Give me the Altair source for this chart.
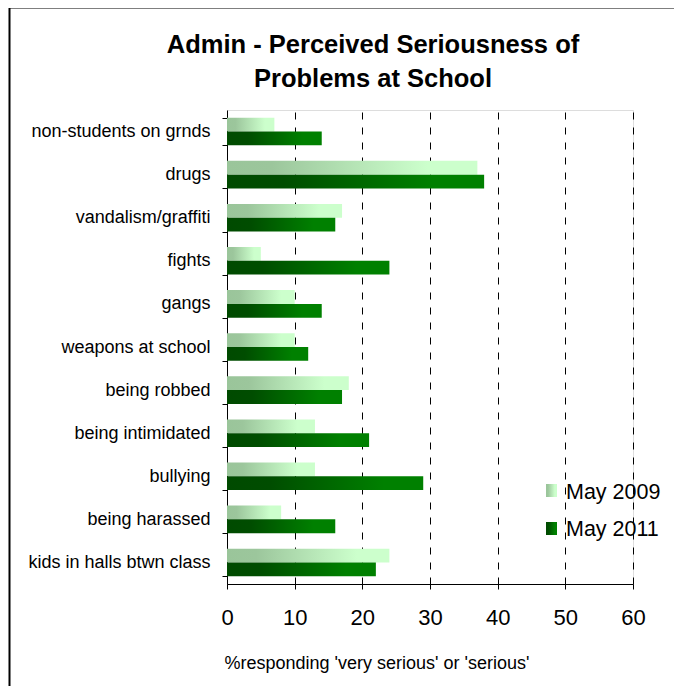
import altair as alt
import pandas as pd

categories = [
    "non-students on grnds", "drugs", "vandalism/graffiti", "fights", "gangs",
    "weapons at school", "being robbed", "being intimidated", "bullying",
    "being harassed", "kids in halls btwn class",
]
may_2009 = [7, 37, 17, 5, 10, 10, 18, 13, 13, 8, 24]
may_2011 = [14, 38, 16, 24, 14, 12, 17, 21, 29, 16, 22]
years = ["May 2009", "May 2011"]
x_ticks = [0, 10, 20, 30, 40, 50, 60]

rows = []
for c, a, b in zip(categories, may_2009, may_2011):
    rows.append({"problem": c, "year": years[0], "value": a})
    rows.append({"problem": c, "year": years[1], "value": b})
df = pd.DataFrame(rows)

FONT = "Liberation Sans"

grad_2009 = alt.Gradient(
    gradient="linear", x1=0, x2=1, y1=0, y2=0,
    stops=[alt.GradientStop(offset=0, color="#9ac59a"),
           alt.GradientStop(offset=0.18, color="#9cc69c"),
           alt.GradientStop(offset=0.8, color="#ccffcc"),
           alt.GradientStop(offset=1, color="#ccffcc")])
grad_2011 = alt.Gradient(
    gradient="linear", x1=0, x2=1, y1=0, y2=0,
    stops=[alt.GradientStop(offset=0, color="#004a00"),
           alt.GradientStop(offset=0.22, color="#004d00"),
           alt.GradientStop(offset=0.8, color="#008000"),
           alt.GradientStop(offset=1, color="#008000")])

x_enc = alt.X(
    "value:Q",
    scale=alt.Scale(domain=[0, 60], nice=False),
    axis=alt.Axis(
        values=x_ticks, grid=True, gridDash=[7, 8], gridColor="black",
        gridOpacity=1, gridWidth=1, domainColor="black", tickColor="black",
        tickSize=5, labelFontSize=22, labelFont=FONT, labelColor="black",
        labelPadding=18, labelFlush=False,
        title="%responding 'very serious' or 'serious'", titleFont=FONT,
        titleFontSize=18, titleFontWeight="normal", titleColor="black",
        titleAnchor="start", titleX=-3, titleY=84, titleBaseline="alphabetic",
    ),
)
y_enc = alt.Y(
    "problem:N", sort=categories,
    scale=alt.Scale(paddingInner=0.36, paddingOuter=0.18),
    axis=alt.Axis(
        title=None, tickBand="extent", tickSize=5, tickColor="black",
        domainColor="black", labelFontSize=18, labelFont=FONT,
        labelColor="black", labelPadding=12, labelLimit=300,
    ),
)
yoff = alt.YOffset("year:N", sort=years, scale=alt.Scale(domain=years))

base = alt.Chart(df)
bars09 = base.transform_filter(alt.datum.year == years[0]).mark_bar(
    color=grad_2009, strokeWidth=0).encode(x=x_enc, y=y_enc, yOffset=yoff)
bars11 = base.transform_filter(alt.datum.year == years[1]).mark_bar(
    color=grad_2011, strokeWidth=0).encode(x=x_enc, y=y_enc, yOffset=yoff)

legend_df = pd.DataFrame({"label": years})
sw09 = alt.Chart(legend_df).transform_filter(alt.datum.label == years[0]).mark_rect(
    color=grad_2009).encode(x=alt.value(319), x2=alt.value(330),
                            y=alt.value(374), y2=alt.value(387))
sw11 = alt.Chart(legend_df).transform_filter(alt.datum.label == years[1]).mark_rect(
    color=grad_2011).encode(x=alt.value(319), x2=alt.value(330),
                            y=alt.value(412), y2=alt.value(425))
tx09 = alt.Chart(legend_df).transform_filter(alt.datum.label == years[0]).mark_text(
    font=FONT, fontSize=21.5, align="left", baseline="alphabetic", color="black"
).encode(x=alt.value(339), y=alt.value(389), text="label:N")
tx11 = alt.Chart(legend_df).transform_filter(alt.datum.label == years[1]).mark_text(
    font=FONT, fontSize=21.5, align="left", baseline="alphabetic", color="black"
).encode(x=alt.value(339), y=alt.value(426), text="label:N")

frame = alt.Chart(pd.DataFrame({"f": [0]})).mark_rect(
    filled=False, stroke="black", strokeWidth=2).encode(
    x=alt.value(-217.5), x2=alt.value(470), y=alt.value(-102.5), y2=alt.value(600))

chart = alt.layer(bars09, bars11, sw09, sw11, tx09, tx11, frame).properties(
    width=406, height=474,
    title=alt.TitleParams(
        text=["Admin - Perceived Seriousness of", "Problems at School"],
        font=FONT, fontSize=25.5, fontWeight="bold", color="black",
        anchor="middle", dx=-57, dy=103, offset=17, lineHeight=34,
    ),
    autosize=alt.AutoSizeParams(type="none"),
    padding={"left": 219, "top": 102, "right": 41, "bottom": 102},
).configure_view(stroke=None).configure(background="white")

chart.save("out.html", embed_options={"renderer": "svg", "actions": False})
